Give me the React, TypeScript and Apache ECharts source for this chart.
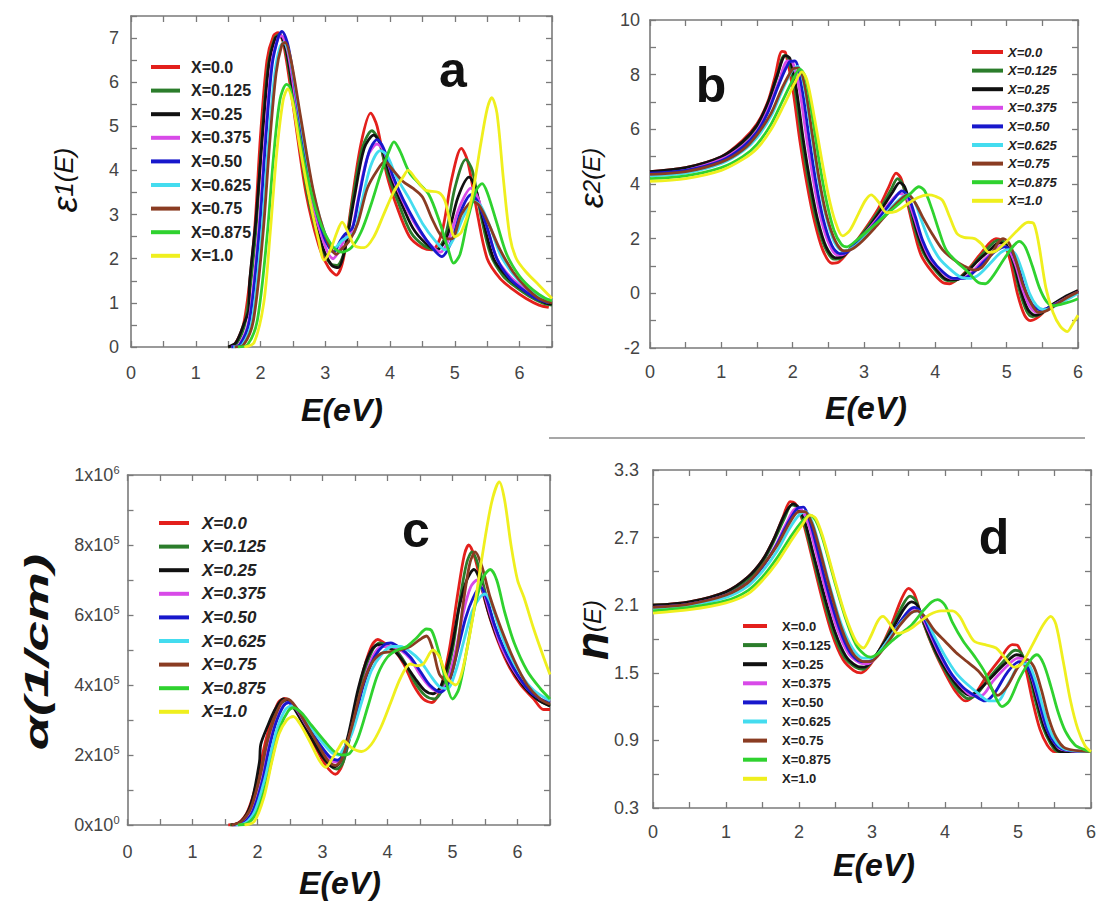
import React, { useEffect, useRef } from "react";
import * as echarts from "echarts";

const seriesNames = ["X=0.0", "X=0.125", "X=0.25", "X=0.375", "X=0.50", "X=0.625", "X=0.75", "X=0.875", "X=1.0"];
const seriesColors = ["#e3201c", "#2b7d2b", "#111111", "#d84ae8", "#1818cc", "#44dcef", "#8a3c22", "#2fd22f", "#efef1e"];

// ---------- panel a : eps1(E) ----------
const eps1X000 = [[1.5,0],[1.6,0.05],[1.75,0.6],[1.9,2.5],[2.0,4.8],[2.1,6.5],[2.2,7.05],[2.27,7.12],[2.35,6.9],[2.5,5.5],[2.7,3.5],[2.9,2.3],[3.05,1.8],[3.17,1.63],[3.28,2.0],[3.4,3.2],[3.55,4.6],[3.7,5.3],[3.8,5.0],[3.95,3.9],[4.1,3.2],[4.3,2.5],[4.5,2.25],[4.65,2.2],[4.8,2.6],[4.95,3.8],[5.1,4.5],[5.2,4.2],[5.35,3.0],[5.5,2.0],[5.7,1.55],[5.9,1.3],[6.1,1.1],[6.3,0.95],[6.45,0.9]];
const eps1X0125 = [[1.5,0],[1.62,0.05],[1.77,0.6],[1.92,2.5],[2.02,4.7],[2.12,6.4],[2.22,7.0],[2.29,7.08],[2.37,6.85],[2.52,5.5],[2.72,3.5],[2.92,2.35],[3.07,1.9],[3.18,1.85],[3.3,2.2],[3.42,3.3],[3.57,4.5],[3.72,4.9],[3.82,4.7],[3.97,3.9],[4.12,3.3],[4.32,2.6],[4.52,2.3],[4.7,2.2],[4.85,2.5],[5.0,3.6],[5.17,4.25],[5.27,4.0],[5.4,3.0],[5.55,2.1],[5.75,1.6],[5.95,1.35],[6.15,1.15],[6.35,1.0],[6.5,0.95]];
const eps1X025 = [[1.5,0],[1.62,0.1],[1.75,0.55],[1.82,0.85],[1.83,1.45],[1.93,2.9],[2.03,4.8],[2.13,6.4],[2.23,7.0],[2.3,7.05],[2.4,6.7],[2.55,5.3],[2.75,3.4],[2.95,2.3],[3.1,1.85],[3.2,1.8],[3.3,2.2],[3.45,3.4],[3.6,4.5],[3.75,4.8],[3.85,4.6],[4.0,3.9],[4.15,3.35],[4.35,2.7],[4.55,2.35],[4.72,2.2],[4.88,2.5],[5.05,3.4],[5.22,3.85],[5.32,3.6],[5.45,2.8],[5.6,2.0],[5.8,1.6],[6.0,1.35],[6.2,1.15],[6.4,1.0],[6.5,0.97]];
const eps1X0375 = [[1.55,0],[1.67,0.05],[1.82,0.6],[1.97,2.6],[2.07,4.7],[2.17,6.4],[2.27,7.0],[2.32,7.05],[2.42,6.7],[2.57,5.3],[2.77,3.5],[2.97,2.4],[3.12,2.0],[3.22,2.2],[3.3,2.45],[3.4,2.6],[3.5,3.3],[3.65,4.3],[3.8,4.6],[3.9,4.45],[4.05,3.8],[4.2,3.3],[4.4,2.75],[4.6,2.35],[4.78,2.15],[4.92,2.5],[5.08,3.2],[5.25,3.6],[5.35,3.4],[5.5,2.7],[5.65,2.0],[5.85,1.6],[6.05,1.35],[6.25,1.15],[6.45,1.0]];
const eps1X050 = [[1.55,0],[1.68,0.05],[1.83,0.6],[1.98,2.6],[2.08,4.7],[2.18,6.4],[2.28,7.05],[2.33,7.15],[2.43,6.8],[2.58,5.4],[2.78,3.6],[2.98,2.5],[3.13,2.15],[3.23,2.4],[3.3,2.55],[3.42,2.7],[3.52,3.4],[3.67,4.4],[3.8,4.7],[3.9,4.5],[4.05,3.85],[4.2,3.35],[4.4,2.8],[4.6,2.35],[4.8,2.05],[4.95,2.4],[5.1,3.1],[5.25,3.45],[5.35,3.3],[5.5,2.7],[5.65,2.0],[5.85,1.55],[6.05,1.3],[6.25,1.1],[6.45,1.0]];
const eps1X0625 = [[1.58,0],[1.72,0.05],[1.87,0.6],[2.02,2.6],[2.12,4.6],[2.22,6.2],[2.3,6.8],[2.36,6.9],[2.45,6.6],[2.6,5.3],[2.8,3.6],[3.0,2.55],[3.15,2.25],[3.25,2.4],[3.35,2.5],[3.45,2.6],[3.55,3.2],[3.7,4.1],[3.85,4.45],[3.95,4.35],[4.1,3.85],[4.3,3.35],[4.5,2.8],[4.7,2.4],[4.85,2.2],[5.0,2.5],[5.15,3.0],[5.3,3.3],[5.4,3.2],[5.55,2.7],[5.7,2.1],[5.9,1.65],[6.1,1.35],[6.3,1.15],[6.5,1.05]];
const eps1X075 = [[1.6,0],[1.74,0.05],[1.89,0.6],[2.04,2.6],[2.14,4.6],[2.24,6.2],[2.33,6.85],[2.38,6.9],[2.47,6.5],[2.62,5.2],[2.82,3.5],[3.02,2.45],[3.17,2.1],[3.27,2.25],[3.37,2.4],[3.5,2.8],[3.65,3.6],[3.8,4.0],[3.92,4.2],[4.05,4.0],[4.2,3.75],[4.35,3.6],[4.5,3.4],[4.65,2.9],[4.8,2.5],[4.95,2.45],[5.1,3.0],[5.28,3.3],[5.38,3.2],[5.52,2.8],[5.7,2.2],[5.9,1.7],[6.1,1.35],[6.3,1.1],[6.5,1.0]];
const eps1X0875 = [[1.65,0],[1.8,0.05],[1.95,0.6],[2.1,2.5],[2.2,4.3],[2.3,5.6],[2.4,5.95],[2.45,5.9],[2.55,5.2],[2.7,4.0],[2.9,2.9],[3.1,2.3],[3.25,2.15],[3.4,2.25],[3.55,2.6],[3.7,3.2],[3.85,3.9],[4.0,4.5],[4.06,4.65],[4.15,4.45],[4.3,3.95],[4.45,3.7],[4.6,3.45],[4.75,2.9],[4.9,2.2],[4.98,1.9],[5.08,2.1],[5.2,2.9],[5.33,3.55],[5.42,3.7],[5.5,3.5],[5.65,2.8],[5.8,2.1],[6.0,1.6],[6.2,1.3],[6.4,1.1],[6.5,1.05]];
const eps1X100 = [[1.75,0],[1.9,0.1],[2.05,1.0],[2.15,2.6],[2.25,4.4],[2.35,5.6],[2.42,5.85],[2.5,5.5],[2.6,4.6],[2.75,3.4],[2.9,2.4],[2.98,1.97],[3.08,2.2],[3.18,2.6],[3.26,2.83],[3.35,2.6],[3.45,2.3],[3.6,2.25],[3.75,2.5],[3.9,3.0],[4.05,3.5],[4.2,3.85],[4.28,4.0],[4.4,3.8],[4.55,3.55],[4.75,3.5],[4.85,3.3],[5.0,2.5],[5.1,2.6],[5.25,3.3],[5.4,4.6],[5.5,5.4],[5.57,5.65],[5.65,5.3],[5.75,3.8],[5.85,2.5],[5.95,2.0],[6.1,1.7],[6.3,1.4],[6.5,1.1]];

// ---------- panel b : eps2(E) ----------
const eps2X000 = [[0,4.45],[0.5,4.6],[1.0,5.0],[1.3,5.6],[1.5,6.2],[1.65,7.0],[1.75,7.9],[1.85,8.85],[1.9,8.8],[2.0,7.5],[2.1,5.6],[2.2,4.0],[2.3,2.7],[2.42,1.6],[2.55,1.1],[2.65,1.15],[2.8,1.6],[3.0,2.3],[3.2,3.1],[3.35,3.9],[3.45,4.4],[3.52,4.2],[3.6,3.4],[3.7,2.3],[3.8,1.4],[3.95,0.8],[4.1,0.4],[4.2,0.35],[4.35,0.6],[4.5,1.0],[4.65,1.5],[4.85,2.0],[4.95,1.9],[5.05,1.2],[5.15,0.0],[5.25,-0.8],[5.33,-1.0],[5.45,-0.85],[5.6,-0.5],[5.8,-0.2],[6.0,0.1]];
const eps2X0125 = [[0,4.4],[0.5,4.55],[1.0,4.95],[1.3,5.5],[1.5,6.1],[1.65,6.9],[1.78,7.9],[1.88,8.7],[1.93,8.65],[2.03,7.5],[2.13,5.6],[2.23,4.0],[2.33,2.7],[2.45,1.7],[2.58,1.25],[2.68,1.3],[2.83,1.7],[3.03,2.35],[3.23,3.1],[3.38,3.8],[3.47,4.2],[3.54,4.0],[3.62,3.3],[3.72,2.3],[3.83,1.5],[3.98,0.9],[4.13,0.5],[4.25,0.45],[4.4,0.7],[4.55,1.1],[4.7,1.55],[4.88,1.95],[4.98,1.85],[5.08,1.2],[5.18,0.1],[5.28,-0.65],[5.36,-0.85],[5.48,-0.75],[5.62,-0.45],[5.8,-0.2],[6.0,0.05]];
const eps2X025 = [[0,4.45],[0.5,4.6],[1.0,5.0],[1.3,5.55],[1.5,6.15],[1.65,6.95],[1.78,7.95],[1.9,8.7],[1.96,8.6],[2.05,7.5],[2.15,5.6],[2.25,4.0],[2.35,2.7],[2.47,1.7],[2.6,1.3],[2.7,1.35],[2.85,1.75],[3.05,2.35],[3.25,3.1],[3.4,3.7],[3.5,4.05],[3.57,3.9],[3.65,3.2],[3.75,2.2],[3.87,1.4],[4.02,0.85],[4.17,0.5],[4.3,0.5],[4.45,0.8],[4.6,1.2],[4.75,1.55],[4.9,1.85],[5.0,1.75],[5.1,1.1],[5.2,0.1],[5.3,-0.6],[5.4,-0.8],[5.5,-0.7],[5.65,-0.4],[5.8,-0.15],[6.0,0.1]];
const eps2X0375 = [[0,4.35],[0.5,4.5],[1.0,4.9],[1.3,5.4],[1.5,5.95],[1.65,6.7],[1.8,7.7],[1.93,8.5],[2.0,8.45],[2.1,7.4],[2.2,5.6],[2.3,4.0],[2.4,2.7],[2.52,1.75],[2.63,1.4],[2.73,1.45],[2.88,1.8],[3.08,2.4],[3.28,3.05],[3.42,3.5],[3.5,3.65],[3.6,3.5],[3.7,2.8],[3.8,2.0],[3.92,1.3],[4.07,0.85],[4.22,0.55],[4.37,0.55],[4.5,0.75],[4.65,1.15],[4.8,1.5],[4.93,1.75],[5.03,1.6],[5.13,1.0],[5.23,0.1],[5.33,-0.5],[5.43,-0.7],[5.53,-0.65],[5.68,-0.4],[5.85,-0.15],[6.0,0.05]];
const eps2X050 = [[0,4.4],[0.5,4.5],[1.0,4.85],[1.3,5.35],[1.5,5.9],[1.65,6.6],[1.8,7.6],[1.95,8.45],[2.03,8.5],[2.13,7.5],[2.23,5.7],[2.33,4.0],[2.43,2.7],[2.55,1.75],[2.66,1.45],[2.76,1.5],[2.9,1.85],[3.1,2.4],[3.3,3.05],[3.45,3.55],[3.53,3.75],[3.62,3.55],[3.72,2.8],[3.82,1.95],[3.95,1.25],[4.1,0.8],[4.25,0.55],[4.4,0.55],[4.55,0.8],[4.7,1.2],[4.85,1.55],[4.97,1.7],[5.07,1.55],[5.17,0.9],[5.27,0.05],[5.37,-0.45],[5.47,-0.6],[5.57,-0.55],[5.72,-0.35],[5.87,-0.15],[6.0,0.05]];
const eps2X0625 = [[0,4.3],[0.5,4.4],[1.0,4.75],[1.3,5.2],[1.5,5.7],[1.7,6.5],[1.85,7.4],[1.98,8.1],[2.07,8.3],[2.16,7.6],[2.26,5.9],[2.36,4.2],[2.46,2.9],[2.58,1.9],[2.7,1.55],[2.8,1.6],[2.95,1.9],[3.15,2.45],[3.35,3.05],[3.5,3.45],[3.6,3.6],[3.7,3.4],[3.8,2.7],[3.92,1.9],[4.05,1.3],[4.2,0.9],[4.35,0.6],[4.5,0.55],[4.62,0.7],[4.77,1.1],[4.92,1.5],[5.02,1.6],[5.12,1.45],[5.22,0.8],[5.32,0.0],[5.42,-0.45],[5.52,-0.6],[5.62,-0.55],[5.75,-0.35],[5.9,-0.15],[6.0,0.0]];
const eps2X075 = [[0,4.35],[0.5,4.45],[1.0,4.8],[1.3,5.25],[1.5,5.8],[1.7,6.6],[1.85,7.5],[2.0,8.2],[2.08,8.25],[2.17,7.6],[2.27,5.9],[2.37,4.2],[2.47,2.9],[2.6,1.9],[2.72,1.55],[2.82,1.6],[2.97,1.9],[3.17,2.45],[3.37,3.05],[3.52,3.45],[3.62,3.6],[3.72,3.3],[3.82,2.8],[3.95,2.2],[4.1,1.6],[4.25,1.25],[4.4,1.0],[4.55,0.85],[4.65,0.95],[4.78,1.4],[4.88,1.85],[4.95,2.0],[5.03,1.85],[5.13,1.2],[5.23,0.3],[5.35,-0.4],[5.45,-0.7],[5.55,-0.65],[5.7,-0.4],[5.85,-0.15],[6.0,0.05]];
const eps2X0875 = [[0,4.2],[0.5,4.3],[1.0,4.6],[1.3,5.0],[1.5,5.45],[1.7,6.2],[1.85,7.0],[2.0,7.8],[2.1,8.2],[2.18,7.9],[2.28,6.4],[2.38,4.7],[2.48,3.3],[2.58,2.3],[2.68,1.8],[2.76,1.7],[2.9,1.95],[3.1,2.4],[3.3,2.85],[3.5,3.3],[3.65,3.65],[3.77,3.9],[3.85,3.75],[3.95,3.1],[4.05,2.3],[4.15,1.6],[4.3,1.15],[4.45,0.8],[4.6,0.4],[4.7,0.35],[4.8,0.6],[4.95,1.2],[5.1,1.75],[5.18,1.9],[5.26,1.7],[5.36,1.0],[5.46,0.2],[5.56,-0.3],[5.66,-0.45],[5.76,-0.4],[5.9,-0.3],[6.0,-0.2]];
const eps2X100 = [[0,4.1],[0.5,4.2],[1.0,4.5],[1.3,4.9],[1.5,5.3],[1.7,6.0],[1.88,6.9],[2.03,7.7],[2.13,8.1],[2.2,7.8],[2.3,6.5],[2.4,5.0],[2.5,3.6],[2.6,2.6],[2.7,2.1],[2.8,2.3],[2.92,2.9],[3.02,3.4],[3.1,3.6],[3.2,3.35],[3.32,2.95],[3.45,3.0],[3.6,3.25],[3.75,3.5],[3.9,3.6],[4.0,3.55],[4.1,3.4],[4.2,2.8],[4.3,2.2],[4.4,2.05],[4.55,2.0],[4.65,1.8],[4.75,1.5],[4.85,1.55],[5.0,1.9],[5.15,2.3],[5.3,2.6],[5.38,2.55],[5.45,1.8],[5.55,0.2],[5.65,-0.7],[5.75,-1.2],[5.85,-1.4],[5.93,-1.1],[6.0,-0.8]];

// ---------- panel c : alpha(E) ----------
const alphaX000 = [[1.55,0],[1.7,5e3],[1.85,4e4],[2.0,1.3e5],[2.1,2.2e5],[2.2,2.9e5],[2.32,3.5e5],[2.42,3.62e5],[2.55,3.4e5],[2.7,2.9e5],[2.9,2.2e5],[3.05,1.7e5],[3.2,1.45e5],[3.3,1.7e5],[3.45,2.8e5],[3.6,4.2e5],[3.75,5.1e5],[3.85,5.3e5],[3.95,5.2e5],[4.1,5.0e5],[4.25,4.6e5],[4.4,4.0e5],[4.55,3.6e5],[4.68,3.5e5],[4.8,3.8e5],[4.95,5.0e5],[5.08,6.6e5],[5.18,7.7e5],[5.25,8.0e5],[5.35,7.6e5],[5.5,6.4e5],[5.65,5.5e5],[5.85,4.6e5],[6.05,4.0e5],[6.25,3.6e5],[6.4,3.3e5],[6.5,3.3e5]];
const alphaX0125 = [[1.58,0],[1.73,5e3],[1.88,4e4],[2.03,1.3e5],[2.13,2.2e5],[2.23,2.9e5],[2.35,3.45e5],[2.44,3.55e5],[2.57,3.35e5],[2.72,2.9e5],[2.92,2.25e5],[3.07,1.8e5],[3.22,1.6e5],[3.32,1.8e5],[3.47,2.9e5],[3.62,4.2e5],[3.77,5.0e5],[3.88,5.2e5],[3.98,5.15e5],[4.13,5.0e5],[4.28,4.6e5],[4.43,4.05e5],[4.58,3.7e5],[4.72,3.6e5],[4.85,3.9e5],[5.0,5.0e5],[5.12,6.5e5],[5.22,7.5e5],[5.3,7.8e5],[5.4,7.4e5],[5.55,6.3e5],[5.7,5.4e5],[5.9,4.6e5],[6.1,4.0e5],[6.3,3.6e5],[6.5,3.4e5]];
const alphaX025 = [[1.6,0],[1.75,1e4],[1.9,6e4],[2.03,1.8e5],[2.05,2.3e5],[2.15,2.8e5],[2.27,3.3e5],[2.4,3.6e5],[2.52,3.45e5],[2.67,3.0e5],[2.87,2.35e5],[3.02,1.9e5],[3.17,1.65e5],[3.27,1.8e5],[3.4,2.6e5],[3.55,3.9e5],[3.7,4.8e5],[3.85,5.15e5],[3.97,5.1e5],[4.12,4.95e5],[4.27,4.6e5],[4.42,4.2e5],[4.57,3.85e5],[4.7,3.75e5],[4.83,4.0e5],[4.98,5.0e5],[5.1,6.2e5],[5.22,7.0e5],[5.33,7.3e5],[5.42,7.0e5],[5.55,6.1e5],[5.7,5.3e5],[5.9,4.5e5],[6.1,3.95e5],[6.3,3.6e5],[6.5,3.4e5]];
const alphaX0375 = [[1.62,0],[1.77,5e3],[1.92,4e4],[2.07,1.3e5],[2.17,2.2e5],[2.27,2.9e5],[2.39,3.4e5],[2.47,3.5e5],[2.6,3.3e5],[2.75,2.85e5],[2.95,2.3e5],[3.1,1.9e5],[3.22,1.8e5],[3.32,2.0e5],[3.47,2.9e5],[3.62,4.0e5],[3.77,4.8e5],[3.92,5.1e5],[4.05,5.1e5],[4.2,5.0e5],[4.35,4.75e5],[4.5,4.3e5],[4.65,3.95e5],[4.8,3.8e5],[4.92,4.1e5],[5.05,5.0e5],[5.17,6.1e5],[5.28,6.8e5],[5.38,7.0e5],[5.47,6.7e5],[5.6,5.9e5],[5.75,5.1e5],[5.95,4.4e5],[6.15,3.9e5],[6.35,3.6e5],[6.5,3.5e5]];
const alphaX050 = [[1.63,0],[1.78,5e3],[1.93,4e4],[2.08,1.3e5],[2.18,2.2e5],[2.28,2.9e5],[2.4,3.4e5],[2.48,3.5e5],[2.61,3.3e5],[2.76,2.85e5],[2.96,2.3e5],[3.11,1.95e5],[3.23,1.85e5],[3.33,2.05e5],[3.48,2.9e5],[3.63,4.0e5],[3.8,4.8e5],[3.95,5.15e5],[4.05,5.2e5],[4.2,5.05e5],[4.35,4.8e5],[4.5,4.4e5],[4.65,4.0e5],[4.82,3.8e5],[4.95,4.1e5],[5.08,5.0e5],[5.2,5.9e5],[5.32,6.5e5],[5.43,6.8e5],[5.52,6.5e5],[5.65,5.7e5],[5.8,5.0e5],[6.0,4.3e5],[6.2,3.8e5],[6.4,3.55e5],[6.5,3.5e5]];
const alphaX0625 = [[1.66,0],[1.81,5e3],[1.96,4e4],[2.11,1.3e5],[2.21,2.1e5],[2.31,2.8e5],[2.43,3.3e5],[2.52,3.4e5],[2.65,3.25e5],[2.8,2.85e5],[3.0,2.35e5],[3.15,2.05e5],[3.25,2.0e5],[3.33,2.2e5],[3.45,2.6e5],[3.6,3.5e5],[3.75,4.4e5],[3.92,4.9e5],[4.07,5.1e5],[4.2,5.1e5],[4.35,4.95e5],[4.5,4.7e5],[4.65,4.3e5],[4.8,3.95e5],[4.92,3.9e5],[5.05,4.4e5],[5.18,5.3e5],[5.3,6.1e5],[5.42,6.5e5],[5.5,6.6e5],[5.6,6.3e5],[5.72,5.6e5],[5.87,4.9e5],[6.05,4.3e5],[6.25,3.85e5],[6.5,3.55e5]];
const alphaX075 = [[1.6,0],[1.75,1e4],[1.9,5e4],[2.05,1.5e5],[2.15,2.4e5],[2.25,3.0e5],[2.37,3.5e5],[2.46,3.6e5],[2.58,3.4e5],[2.73,2.95e5],[2.93,2.3e5],[3.08,1.85e5],[3.2,1.7e5],[3.3,1.9e5],[3.45,2.8e5],[3.6,3.9e5],[3.75,4.6e5],[3.9,4.9e5],[4.05,4.95e5],[4.2,5.0e5],[4.35,5.1e5],[4.5,5.3e5],[4.6,5.4e5],[4.7,5.0e5],[4.8,4.3e5],[4.92,4.1e5],[5.05,4.8e5],[5.17,6.4e5],[5.27,7.5e5],[5.35,7.8e5],[5.45,7.4e5],[5.58,6.5e5],[5.75,5.6e5],[5.95,4.7e5],[6.15,4.0e5],[6.35,3.6e5],[6.5,3.45e5]];
const alphaX0875 = [[1.7,0],[1.85,5e3],[2.0,4e4],[2.15,1.3e5],[2.25,2.1e5],[2.35,2.8e5],[2.47,3.25e5],[2.55,3.35e5],[2.68,3.2e5],[2.83,2.85e5],[3.03,2.4e5],[3.18,2.1e5],[3.3,2.0e5],[3.42,2.05e5],[3.55,2.5e5],[3.7,3.4e5],[3.85,4.3e5],[4.0,4.8e5],[4.15,5.0e5],[4.3,5.1e5],[4.45,5.35e5],[4.6,5.6e5],[4.68,5.55e5],[4.78,5.0e5],[4.9,4.1e5],[5.0,3.6e5],[5.1,3.9e5],[5.22,5.0e5],[5.35,6.3e5],[5.48,7.1e5],[5.58,7.3e5],[5.68,7.0e5],[5.8,6.1e5],[5.95,5.2e5],[6.15,4.4e5],[6.35,3.9e5],[6.5,3.6e5]];
const alphaX100 = [[1.8,0],[1.95,1e4],[2.1,8e4],[2.22,1.8e5],[2.33,2.6e5],[2.45,3.0e5],[2.55,3.1e5],[2.65,2.9e5],[2.8,2.4e5],[2.95,1.85e5],[3.05,1.65e5],[3.15,1.9e5],[3.25,2.2e5],[3.33,2.4e5],[3.45,2.2e5],[3.6,2.1e5],[3.75,2.3e5],[3.9,2.8e5],[4.05,3.5e5],[4.2,4.2e5],[4.35,4.6e5],[4.45,4.55e5],[4.55,4.6e5],[4.7,5.0e5],[4.8,4.8e5],[4.92,4.2e5],[5.05,4.0e5],[5.15,4.4e5],[5.3,5.8e5],[5.45,7.6e5],[5.6,9.2e5],[5.72,9.8e5],[5.8,9.3e5],[5.9,8.0e5],[6.0,7.0e5],[6.1,6.5e5],[6.25,5.6e5],[6.4,4.8e5],[6.5,4.3e5]];

// ---------- panel d : n(E) ----------
const nX000 = [[0,2.1],[0.5,2.13],[1.0,2.22],[1.3,2.35],[1.5,2.5],[1.65,2.68],[1.78,2.88],[1.88,3.02],[1.95,3.0],[2.05,2.85],[2.15,2.6],[2.3,2.2],[2.45,1.85],[2.6,1.62],[2.75,1.52],[2.85,1.5],[2.95,1.55],[3.1,1.7],[3.25,1.9],[3.4,2.15],[3.5,2.25],[3.58,2.2],[3.7,1.95],[3.85,1.7],[4.0,1.5],[4.15,1.33],[4.28,1.25],[4.4,1.3],[4.55,1.45],[4.75,1.62],[4.92,1.75],[5.0,1.74],[5.1,1.55],[5.2,1.25],[5.3,1.0],[5.4,0.86],[5.5,0.8],[6.0,0.8]];
const nX0125 = [[0,2.1],[0.5,2.12],[1.0,2.21],[1.3,2.33],[1.5,2.48],[1.65,2.66],[1.8,2.87],[1.9,2.99],[1.97,2.97],[2.07,2.83],[2.17,2.58],[2.32,2.2],[2.47,1.86],[2.62,1.64],[2.77,1.55],[2.87,1.53],[2.97,1.58],[3.12,1.72],[3.27,1.9],[3.42,2.1],[3.52,2.18],[3.6,2.14],[3.72,1.92],[3.87,1.68],[4.02,1.5],[4.17,1.35],[4.32,1.27],[4.45,1.32],[4.6,1.45],[4.8,1.6],[4.96,1.7],[5.04,1.68],[5.14,1.52],[5.24,1.25],[5.34,1.02],[5.44,0.88],[5.55,0.8],[6.0,0.8]];
const nX025 = [[0,2.1],[0.5,2.13],[1.0,2.22],[1.3,2.35],[1.5,2.5],[1.65,2.68],[1.8,2.9],[1.92,3.0],[1.99,2.97],[2.09,2.82],[2.19,2.57],[2.34,2.2],[2.49,1.87],[2.64,1.65],[2.79,1.56],[2.89,1.55],[2.99,1.6],[3.14,1.74],[3.29,1.9],[3.44,2.07],[3.54,2.13],[3.62,2.1],[3.74,1.9],[3.89,1.67],[4.04,1.5],[4.19,1.37],[4.34,1.3],[4.47,1.35],[4.62,1.45],[4.82,1.58],[4.98,1.66],[5.06,1.64],[5.16,1.5],[5.26,1.25],[5.36,1.02],[5.46,0.88],[5.58,0.8],[6.0,0.8]];
const nX0375 = [[0,2.08],[0.5,2.11],[1.0,2.19],[1.3,2.3],[1.5,2.44],[1.68,2.63],[1.83,2.83],[1.96,2.96],[2.03,2.95],[2.13,2.82],[2.23,2.58],[2.38,2.2],[2.53,1.88],[2.68,1.67],[2.83,1.59],[2.93,1.58],[3.03,1.62],[3.18,1.75],[3.33,1.9],[3.48,2.03],[3.57,2.07],[3.65,2.04],[3.77,1.88],[3.92,1.67],[4.07,1.5],[4.22,1.38],[4.37,1.3],[4.5,1.3],[4.65,1.42],[4.85,1.56],[5.0,1.63],[5.08,1.62],[5.18,1.48],[5.28,1.25],[5.38,1.03],[5.48,0.9],[5.6,0.82],[6.0,0.8]];
const nX050 = [[0,2.08],[0.5,2.11],[1.0,2.19],[1.3,2.3],[1.5,2.44],[1.68,2.62],[1.84,2.82],[1.98,2.96],[2.06,2.97],[2.15,2.84],[2.25,2.6],[2.4,2.22],[2.55,1.9],[2.7,1.68],[2.85,1.6],[2.95,1.6],[3.05,1.64],[3.2,1.77],[3.35,1.92],[3.5,2.05],[3.58,2.08],[3.67,2.04],[3.8,1.86],[3.95,1.65],[4.1,1.48],[4.25,1.37],[4.4,1.3],[4.55,1.25],[4.68,1.32],[4.85,1.5],[5.02,1.6],[5.1,1.58],[5.2,1.45],[5.3,1.22],[5.4,1.0],[5.5,0.88],[5.62,0.82],[6.0,0.8]];
const nX0625 = [[0,2.07],[0.5,2.1],[1.0,2.17],[1.3,2.27],[1.5,2.4],[1.7,2.58],[1.87,2.78],[2.0,2.9],[2.09,2.93],[2.18,2.84],[2.28,2.62],[2.43,2.25],[2.58,1.93],[2.73,1.72],[2.88,1.63],[2.98,1.63],[3.08,1.67],[3.23,1.8],[3.38,1.93],[3.53,2.03],[3.62,2.05],[3.72,2.0],[3.85,1.83],[4.0,1.65],[4.15,1.5],[4.3,1.4],[4.45,1.32],[4.6,1.25],[4.72,1.25],[4.88,1.42],[5.05,1.58],[5.13,1.58],[5.23,1.45],[5.33,1.22],[5.43,1.0],[5.53,0.88],[5.65,0.82],[6.0,0.8]];
const nX075 = [[0,2.08],[0.5,2.11],[1.0,2.19],[1.3,2.3],[1.5,2.45],[1.7,2.63],[1.87,2.83],[2.0,2.93],[2.08,2.93],[2.18,2.82],[2.28,2.6],[2.43,2.23],[2.58,1.9],[2.73,1.68],[2.88,1.6],[2.98,1.6],[3.08,1.65],[3.23,1.78],[3.38,1.92],[3.53,2.03],[3.62,2.05],[3.72,2.0],[3.85,1.88],[4.0,1.78],[4.15,1.68],[4.3,1.6],[4.45,1.52],[4.6,1.4],[4.72,1.3],[4.85,1.38],[5.0,1.55],[5.12,1.62],[5.22,1.55],[5.32,1.35],[5.42,1.1],[5.52,0.93],[5.65,0.83],[6.0,0.8]];
const nX0875 = [[0,2.05],[0.5,2.08],[1.0,2.14],[1.3,2.23],[1.5,2.35],[1.7,2.52],[1.9,2.72],[2.05,2.85],[2.15,2.9],[2.23,2.85],[2.33,2.68],[2.48,2.33],[2.63,2.0],[2.78,1.75],[2.9,1.66],[2.98,1.64],[3.1,1.68],[3.25,1.77],[3.4,1.85],[3.55,1.93],[3.7,2.05],[3.82,2.13],[3.9,2.15],[4.0,2.1],[4.1,1.95],[4.25,1.78],[4.4,1.65],[4.55,1.5],[4.68,1.3],[4.78,1.2],[4.88,1.25],[5.02,1.45],[5.18,1.62],[5.26,1.66],[5.35,1.58],[5.45,1.38],[5.55,1.15],[5.65,0.98],[5.78,0.86],[5.9,0.82],[6.0,0.8]];
const nX100 = [[0,2.03],[0.5,2.06],[1.0,2.12],[1.3,2.2],[1.5,2.32],[1.7,2.48],[1.9,2.68],[2.05,2.82],[2.15,2.9],[2.23,2.87],[2.33,2.7],[2.48,2.35],[2.63,2.02],[2.78,1.78],[2.88,1.72],[2.98,1.82],[3.08,1.96],[3.15,2.0],[3.25,1.93],[3.35,1.85],[3.5,1.88],[3.65,1.95],[3.8,2.02],[3.95,2.05],[4.1,2.05],[4.2,2.0],[4.3,1.88],[4.4,1.78],[4.55,1.75],[4.7,1.72],[4.8,1.65],[4.95,1.55],[5.05,1.58],[5.2,1.75],[5.35,1.93],[5.45,2.0],[5.52,1.93],[5.62,1.6],[5.72,1.25],[5.82,1.0],[5.92,0.85],[6.0,0.8]];

const eps1Data = [eps1X000, eps1X0125, eps1X025, eps1X0375, eps1X050, eps1X0625, eps1X075, eps1X0875, eps1X100];
const eps2Data = [eps2X000, eps2X0125, eps2X025, eps2X0375, eps2X050, eps2X0625, eps2X075, eps2X0875, eps2X100];
const alphaData = [alphaX000, alphaX0125, alphaX025, alphaX0375, alphaX050, alphaX0625, alphaX075, alphaX0875, alphaX100];
const nData = [nX000, nX0125, nX025, nX0375, nX050, nX0625, nX075, nX0875, nX100];
const panelData = [eps1Data, eps2Data, alphaData, nData];

const xRanges = [[0, 6.5], [0, 6], [0, 6.5], [0, 6]];
const yRanges = [[0, 7.5, 1], [-2, 10, 2], [0, 1e6, 2e5], [0.3, 3.3, 0.6]];

const FONT = "'Liberation Sans', Arial, sans-serif";
const FRAME = "#7a7a7a";

function App() {
  const ref = useRef<HTMLDivElement>(null);
  useEffect(() => {
    document.body.style.margin = "0";
    const chart = echarts.init(ref.current!, null, { renderer: "svg" });

    const grids = [
      { left: 131, top: 16, width: 421, height: 331 },
      { left: 650, top: 20, width: 428, height: 328 },
      { left: 127.5, top: 475, width: 422.5, height: 350 },
      { left: 653, top: 470, width: 438, height: 338 },
    ];

    const tick = { inside: true, length: 6, lineStyle: { color: FRAME, width: 1.3 } };
    const minor = { show: true, splitNumber: 2, length: 6, lineStyle: { color: FRAME, width: 1.3 } };
    const line = { show: true, onZero: false, lineStyle: { color: FRAME, width: 1.6 } };
    const labelBase = { color: "#444", fontSize: 18, fontFamily: FONT };
    const xMargins = [17, 15, 18, 15];

    const xAxes: any[] = [];
    const yAxes: any[] = [];
    for (let i = 0; i < 4; i++) {
      const xr = xRanges[i];
      const yr = yRanges[i];
      xAxes.push({
        type: "value", gridIndex: i, min: xr[0], max: xr[1], interval: 1, position: "bottom",
        axisLine: line, axisTick: tick, minorTick: minor, splitLine: { show: false },
        axisLabel: { ...labelBase, margin: xMargins[i], showMaxLabel: xr[1] === 6 },
      });
      yAxes.push({
        type: "value", gridIndex: i, min: yr[0], max: yr[1], interval: yr[2], position: "left",
        axisLine: line, axisTick: tick, minorTick: minor, splitLine: { show: false },
        axisLabel:
          i === 2
            ? {
                ...labelBase, margin: 8,
                formatter: (v: number) => {
                  if (v === 0) return "{m|0x10}{s|0}";
                  if (v >= 1e6) return "{m|1x10}{s|6}";
                  return "{m|" + Math.round(v / 1e5) + "x10}{s|5}";
                },
                rich: {
                  m: { fontSize: 18, color: "#444", fontFamily: FONT, lineHeight: 22 },
                  s: { fontSize: 11, color: "#444", fontFamily: FONT, verticalAlign: "top", lineHeight: 12 },
                },
              }
            : i === 3
            ? { ...labelBase, margin: 14, formatter: (v: number) => v.toFixed(1) }
            : { ...labelBase, margin: i === 0 ? 12 : 10, showMaxLabel: i !== 0 },
      });
    }
    for (let i = 0; i < 4; i++) {
      const xr = xRanges[i];
      const yr = yRanges[i];
      xAxes.push({
        type: "value", gridIndex: i, min: xr[0], max: xr[1], interval: 1, position: "top",
        axisLine: line, axisTick: tick, minorTick: minor, splitLine: { show: false }, axisLabel: { show: false },
      });
      yAxes.push({
        type: "value", gridIndex: i, min: yr[0], max: yr[1], interval: yr[2], position: "right",
        axisLine: line, axisTick: tick, minorTick: minor, splitLine: { show: false }, axisLabel: { show: false },
      });
    }

    const series: any[] = [];
    for (let p = 0; p < 4; p++) {
      for (let s = 0; s < 9; s++) {
        series.push({
          type: "line", name: seriesNames[s], xAxisIndex: p, yAxisIndex: p,
          data: panelData[p][s], symbol: "none", showSymbol: false, smooth: 0.3,
          lineStyle: { width: 2.8, color: seriesColors[s] }, itemStyle: { color: seriesColors[s] },
          z: 2 + s,
        });
      }
    }

    const legendCommon = {
      orient: "vertical", icon: "rect", itemHeight: 4, selectedMode: false, data: seriesNames,
    };
    const legends = [
      { ...legendCommon, left: 146, top: 53, itemWidth: 29, itemGap: 5.6,
        textStyle: { fontSize: 16, fontWeight: "bold", color: "#222", fontFamily: FONT, lineHeight: 18, padding: [0, 0, 0, 6] } },
      { ...legendCommon, left: 967, top: 40, itemWidth: 31, itemGap: 4.6,
        textStyle: { fontSize: 13, fontWeight: "bold", fontStyle: "italic", color: "#222", fontFamily: FONT, lineHeight: 14 } },
      { ...legendCommon, left: 154, top: 509, itemWidth: 30, itemGap: 5.6,
        textStyle: { fontSize: 17, fontWeight: "bold", fontStyle: "italic", color: "#222", fontFamily: FONT, lineHeight: 18, padding: [0, 0, 0, 8] } },
      { ...legendCommon, left: 738, top: 614, itemWidth: 24, itemGap: 5.1,
        textStyle: { fontSize: 13, fontWeight: "bold", color: "#222", fontFamily: FONT, lineHeight: 14, padding: [0, 0, 0, 10] } },
    ];

    const txt = (x: number, y: number, text: string, size: number, extra: any = {}, rot = 0) => ({
      type: "text", x, y, rotation: rot, z: 100,
      style: {
        text, fontSize: size, fontFamily: FONT, fill: "#111",
        align: "center", verticalAlign: "middle", textAlign: "center", textVerticalAlign: "middle",
        ...extra,
      },
    });
    const xTitle = { fontWeight: "bold", fontStyle: "italic" };

    const graphic = [
      { type: "line", shape: { x1: 549, y1: 438, x2: 1085, y2: 438 }, style: { stroke: "#8a8a8a", lineWidth: 1.5 }, z: 100 },
      txt(342, 410, "E(eV)", 32, xTitle),
      txt(866, 408, "E(eV)", 32, xTitle),
      txt(340, 883, "E(eV)", 32, xTitle),
      txt(874, 865, "E(eV)", 32, xTitle),
      txt(453, 70, "a", 50, { fontWeight: "bold" }),
      txt(711, 85, "b", 50, { fontWeight: "bold" }),
      txt(416, 530, "c", 50, { fontWeight: "bold" }),
      txt(994, 537, "d", 50, { fontWeight: "bold" }),
      txt(64, 180, "{e|ε}{s|1(E)}", 28, {
        rich: {
          e: { fontSize: 36, fontStyle: "italic", fontFamily: FONT, fill: "#111" },
          s: { fontSize: 26, fontStyle: "italic", fontFamily: FONT, fill: "#111" },
        },
      }, Math.PI / 2),
      txt(591, 178, "{e|ε}{s|2(E)}", 28, {
        rich: {
          e: { fontSize: 34, fontStyle: "italic", fontFamily: FONT, fill: "#111" },
          s: { fontSize: 24, fontStyle: "italic", fontFamily: FONT, fill: "#111" },
        },
      }, Math.PI / 2),
      { ...txt(36, 652, "α(1/cm)", 34, xTitle, Math.PI / 2), scaleX: 1.62 },
      txt(592, 630, "{n|n}{s|(E)}", 28, {
        rich: {
          n: { fontSize: 46, fontWeight: "bold", fontStyle: "italic", fontFamily: FONT, fill: "#111" },
          s: { fontSize: 24, fontStyle: "italic", fontFamily: FONT, fill: "#111" },
        },
      }, Math.PI / 2),
    ];

    chart.setOption({
      animation: false,
      backgroundColor: "#ffffff",
      grid: grids,
      xAxis: xAxes,
      yAxis: yAxes,
      legend: legends,
      series,
      graphic,
    });
    return () => chart.dispose();
  }, []);
  return <div ref={ref} style={{ width: 1099, height: 908 }} />;
}

export default App;
